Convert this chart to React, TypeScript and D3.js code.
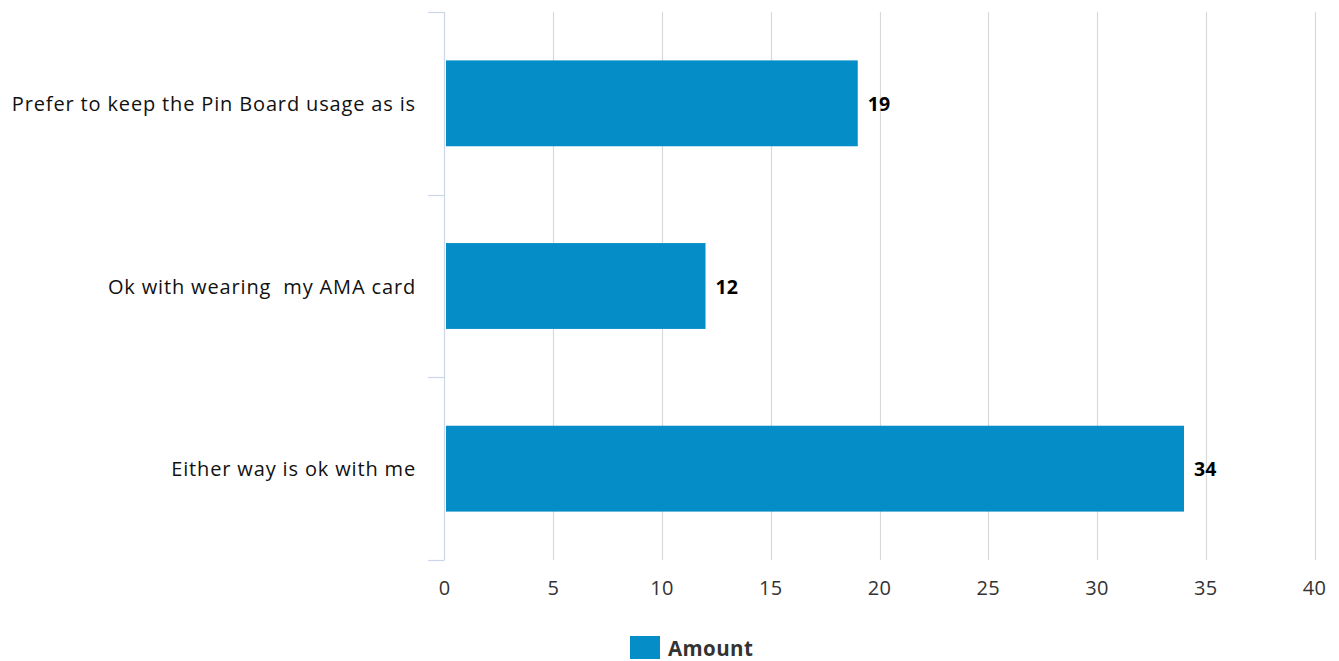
import React from "react";
import * as d3 from "d3";

const categories = [
  "Prefer to keep the Pin Board usage as is",
  "Ok with wearing  my AMA card",
  "Either way is ok with me",
];
const amounts = [19, 12, 34];
const xTicks = [0, 5, 10, 15, 20, 25, 30, 35, 40];
const seriesName = "Amount";

export default function App() {
  const W = 1339, H = 661;
  const left = 444.5, right = 1314.5, top = 12, bottom = 560;
  const x = d3.scaleLinear().domain([0, 40]).range([left, right]);
  const y = d3.scaleBand().domain(categories).range([top, bottom]).paddingInner(0).paddingOuter(0);
  const bw = y.bandwidth();
  const barH = bw * 0.47;
  const font = "'Open Sans', sans-serif";
  return (
    <svg width={W} height={H} style={{ position: "absolute", left: 0, top: 0 }}>
      <rect width={W} height={H} fill="#fff" />
      {xTicks.map((t) => (
        t === 0 ? null :
        <line key={t} x1={Math.round(x(t)) + 0.5} x2={Math.round(x(t)) + 0.5} y1={top} y2={bottom} stroke="#d9d9d9" strokeWidth={1.2} />
      ))}
      <line x1={left} x2={left} y1={top} y2={bottom} stroke="#ccd6eb" strokeWidth={1.2} />
      {[...categories.map((c) => y(c) as number), bottom].map((v, i) => (
        <line key={i} x1={428} x2={left} y1={Math.round(v) + 0.5} y2={Math.round(v) + 0.5} stroke="#ccd6eb" strokeWidth={1.2} />
      ))}
      {categories.map((c, i) => {
        const cy = (y(c) as number) + bw / 2;
        return (
          <g key={c}>
            <rect x={x(0) + 1.5} y={cy - barH / 2} width={x(amounts[i]) - x(0) - 1.5} height={barH} fill="#058DC7" />
            <text x={416} y={cy} textAnchor="end" dominantBaseline="central" fontFamily={font} fontSize={20} letterSpacing={0.85} fill="#111" style={{ whiteSpace: "pre" }}>{c}</text>
            <text x={x(amounts[i]) + 10} y={cy} dominantBaseline="central" fontFamily={font} fontSize={19.5} fontWeight="bold" fill="#000">{amounts[i]}</text>
          </g>
        );
      })}
      {xTicks.map((t) => (
        <text key={t} x={x(t)} y={587} textAnchor="middle" dominantBaseline="central" fontFamily={font} fontSize={20} letterSpacing={0.3} fill="#333">{t}</text>
      ))}
      <rect x={630} y={636} width={30} height={23} fill="#058DC7" />
      <text x={668} y={655.5} fontFamily={font} fontSize={20.5} letterSpacing={0.4} fontWeight="bold" fill="#333">{seriesName}</text>
    </svg>
  );
}
